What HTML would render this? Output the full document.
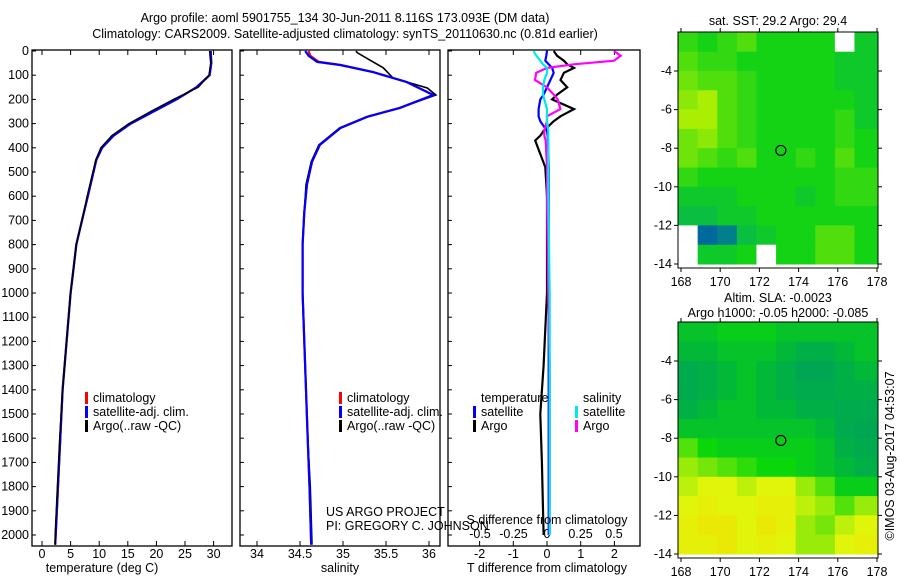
<!DOCTYPE html>
<html><head><meta charset="utf-8">
<style>
html,body{margin:0;padding:0;background:#fff;}
svg{display:block;font-family:"Liberation Sans",sans-serif;}
text{font-size:12.5px;fill:#000;}
</style></head>
<body>
<svg id="fig" width="900" height="580" viewBox="0 0 900 580">
<text x="345" y="22" text-anchor="middle">Argo profile: aoml 5901755_134 30-Jun-2011 8.116S 173.093E (DM data)</text>
<text x="345" y="38" text-anchor="middle">Climatology: CARS2009. Satellite-adjusted climatology: synTS_20110630.nc (0.81d earlier)</text>
<g id="plots"></g>
<text x="102" y="572" text-anchor="middle">temperature (deg C)</text>
<text x="340" y="572" text-anchor="middle">salinity</text>
<text x="547" y="572" text-anchor="middle">T difference from climatology</text>
<text x="547" y="524" text-anchor="middle">S difference from climatology</text>
<text x="326" y="516">US ARGO PROJECT</text>
<text x="326" y="530">PI: GREGORY C. JOHNSON</text>
<text x="778" y="25" text-anchor="middle">sat. SST: 29.2 Argo: 29.4</text>
<text x="778" y="302" text-anchor="middle">Altim. SLA: -0.0023</text>
<text x="778" y="317" text-anchor="middle">Argo h1000: -0.05 h2000: -0.085</text>
<text x="0" y="0" transform="translate(894,456) rotate(-90)" text-anchor="middle">©IMOS 03-Aug-2017 04:53:07</text>
</svg>
<script>
// ---- profile data ----
const tDepth=[0,50,100,150,200,250,300,350,400,450,500,600,700,800,900,1000,1200,1400,1600,1800,2000,2040];
const tClim=[29.5,29.6,29.3,27,23.5,19.5,15.5,12.5,10.5,9.5,9,8,7,6,5.5,5,4.3,3.6,3.2,2.8,2.4,2.3];
const tArgo=[29.3,29.5,29.2,27.3,23,19,15.2,12.2,10.3,9.4,8.9,7.9,7,6,5.5,5,4.3,3.6,3.1,2.7,2.3,2.3];
const sDepth=[0,20,45,58,87,128,182,235,272,318,388,458,553,665,800,1000,1200,1400,1600,1800,2040];
const sClim=[34.6,34.62,34.72,34.97,35.35,35.74,36.05,35.66,35.28,34.97,34.73,34.64,34.58,34.55,34.53,34.53,34.55,34.57,34.59,34.61,34.63];
const sSat=[34.56,34.6,34.7,34.97,35.35,35.74,36.05,35.66,35.28,34.97,34.73,34.64,34.58,34.55,34.53,34.53,34.55,34.57,34.59,34.61,34.63];
const sArgoDepth=[0,8,45,70,111,153,182,235,272,318,388,458,553,665,800,1000,1200,1400,1600,1800,2040];
const sArgo=[35.15,35.17,35.35,35.47,35.58,35.98,36.08,35.66,35.28,34.96,34.72,34.63,34.57,34.55,34.53,34.53,34.55,34.57,34.59,34.62,34.64];
// ---- difference data ----
const dDepth=[0,20,40,55,70,90,120,150,180,200,240,270,290,330,350,370,480,600,1000,1300,1500,1700,2000];
const dSArgo=[0.5,0.55,0.5,0.2,0.0,-0.08,-0.09,0.0,0.05,0.08,0.1,0.0,0.0,-0.02,-0.02,-0.01,0.0,0.0,0.01,0.02,0.02,0.02,0.02];
const dSSat=[-0.1,-0.08,-0.05,-0.03,0.0,0.0,-0.02,-0.03,-0.03,-0.02,0.0,0.0,0.0,0.01,0.01,0.01,0.01,0.01,0.02,0.02,0.02,0.02,0.02];
const dTSat=[0.0,-0.02,-0.05,0.05,0.15,0.2,0.1,0.0,-0.1,-0.2,-0.25,-0.25,-0.2,0.0,0.02,0.03,0.05,0.05,0.05,0.05,0.05,0.05,0.05];
const dTArgo=[0.2,0.3,0.5,0.6,0.8,0.5,0.4,0.6,0.3,0.15,0.8,0.4,0.2,-0.1,-0.2,-0.35,-0.05,0.0,0.0,-0.1,-0.2,-0.15,-0.1];
// ---- axis ticks ----
const depthTicks=[0,100,200,300,400,500,600,700,800,900,1000,1100,1200,1300,1400,1500,1600,1700,1800,1900,2000];
const tTicks=[0,5,10,15,20,25,30];
const sTicks=[34,34.5,35,35.5,36];
const sTickLabels=["34","34.5","35","35.5","36"];
const dtTicks=[-2,-1,0,1,2];
const dsTicks=[-0.5,-0.25,0,0.25,0.5];
const dsTickLabels=["-0.5","-0.25","0","0.25","0.5"];
const lonTicks=[168,170,172,174,176,178];
const latTicks=[-4,-6,-8,-10,-12,-14];
// ---- map grids (rows from -2 to -14 lat, cols 168..178 lon) ----
const sstGrid=[
[.55,.5,.55,.6,.5,.5,.5,.5,null,.45],
[.6,.55,.55,.5,.5,.5,.5,.5,.45,.45],
[.65,.6,.6,.55,.5,.5,.5,.5,.45,.45],
[.7,.75,.6,.55,.5,.5,.5,.5,.5,.45],
[.75,.75,.6,.55,.5,.5,.5,.5,.55,.45],
[.65,.7,.6,.55,.5,.5,.5,.5,.55,.5],
[.65,.6,.55,.6,.5,.5,.55,.5,.6,.5],
[.55,.5,.5,.5,.5,.5,.5,.5,.55,.55],
[.45,.45,.45,.5,.5,.5,.45,.5,.55,.55],
[.4,.4,.45,.45,.5,.5,.5,.5,.5,.5],
[null,.15,.2,.4,.45,.5,.5,.6,.6,.5],
[null,.45,.45,.5,null,.5,.5,.6,.6,.5]];
const slaGrid=[
[.4,.4,.45,.45,.45,.4,.4,.4,.4,.4],
[.35,.35,.4,.4,.4,.35,.3,.3,.35,.4],
[.25,.3,.35,.4,.35,.3,.2,.2,.3,.35],
[.25,.3,.35,.4,.35,.3,.25,.25,.3,.3],
[.3,.35,.4,.4,.35,.35,.3,.3,.25,.25],
[.4,.4,.4,.4,.4,.4,.4,.35,.25,.2],
[.6,.5,.45,.45,.45,.45,.45,.4,.3,.25],
[.7,.65,.6,.55,.5,.5,.45,.4,.35,.3],
[.75,.8,.8,.75,.8,.8,.7,.6,.45,.45],
[.8,.85,.8,.8,.85,.85,.75,.7,.6,.7],
[.85,.9,.9,.8,.9,.85,.7,.65,.75,.8],
[.85,.85,.9,.8,.85,.8,.7,.7,.8,.85]];
const argoLon=173.093, argoLat=-8.116;

const NS="http://www.w3.org/2000/svg";
const root=document.getElementById('plots');
function el(tag,attrs,parent){const e=document.createElementNS(NS,tag);for(const k in attrs)e.setAttribute(k,attrs[k]);(parent||root).appendChild(e);return e;}
const yD=d=>51+d*0.242;
const xT=t=>42+t*5.72;
const xS=s=>257+(s-34)*86;
const xDT=t=>547+t*33.7;
const xDS=s=>547+s*134;
function poly(xs,ys,fx,color,name,w){
  const pts=xs.map((v,i)=>fx(v).toFixed(1)+','+yD(ys[i]).toFixed(1)).join(' ');
  const p=el('polyline',{points:pts,fill:'none',stroke:color,'stroke-width':w||2.2});
  
  
}
function frame(x0,x1,name){
  const r=el('rect',{x:x0,y:50,width:x1-x0,height:496,fill:'none',stroke:'#000','stroke-width':1.3});
  
  
}
frame(32,232,'temperature-panel');frame(240,440,'salinity-panel');frame(448,640,'difference-panel');
depthTicks.forEach(d=>{
  const t=el('text',{x:29,y:yD(d)+4,'text-anchor':'end'});t.textContent=d;
  
  
  [32,240,448].forEach(x=>el('line',{x1:x,x2:x+4,y1:yD(d),y2:yD(d),stroke:'#000'}));
});
tTicks.forEach(v=>{
  el('line',{x1:xT(v),x2:xT(v),y1:546,y2:541,stroke:'#000'});el('line',{x1:xT(v),x2:xT(v),y1:50,y2:55,stroke:'#000'});
  const t=el('text',{x:xT(v),y:558,'text-anchor':'middle'});t.textContent=v;
  
  
});
sTicks.forEach((v,i)=>{
  el('line',{x1:xS(v),x2:xS(v),y1:546,y2:541,stroke:'#000'});el('line',{x1:xS(v),x2:xS(v),y1:50,y2:55,stroke:'#000'});
  const t=el('text',{x:xS(v),y:558,'text-anchor':'middle'});t.textContent=sTickLabels[i];
  
  
});
dtTicks.forEach(v=>{
  el('line',{x1:xDT(v),x2:xDT(v),y1:546,y2:541,stroke:'#000'});el('line',{x1:xDT(v),x2:xDT(v),y1:50,y2:55,stroke:'#000'});
  const t=el('text',{x:xDT(v),y:558,'text-anchor':'middle'});t.textContent=v;
  
  
});
dsTicks.forEach((v,i)=>{
  const t=el('text',{x:xDS(v),y:538,'text-anchor':'middle'});t.textContent=dsTickLabels[i];
  
  
});
poly(tClim,tDepth,xT,'#ff0000','temperature-climatology-line');
poly(tClim,tDepth,xT,'#0000ff','temperature-satellite-line');
poly(tArgo,tDepth,xT,'#000','temperature-argo-line',1.5);
poly(sClim,sDepth,xS,'#ff0000','salinity-climatology-line');
poly(sArgo,sArgoDepth,xS,'#000','salinity-argo-line',1.6);
poly(sSat,sDepth,xS,'#0000ff','salinity-satellite-line');
poly(dTArgo,dDepth,xDT,'#000','t-diff-argo-line');
poly(dTSat,dDepth,xDT,'#0000ff','t-diff-satellite-line');
poly(dSArgo,dDepth,xDS,'#ff00ff','s-diff-argo-line');
poly(dSSat,dDepth,xDS,'#00e8e8','s-diff-satellite-line');
function leg(x,y,color,label,name){
  if(color){el('rect',{x:x,y:y-10,width:3,height:12,fill:color});}
  const t=el('text',{x:x+8,y:y});t.textContent=label;
  
  
}
[[85,'temperature'],[339,'salinity']].forEach(([x,p])=>{
  leg(x,402,'#ff0000','climatology',p+'-legend-climatology');
  leg(x,416,'#0000ff','satellite-adj. clim.',p+'-legend-satellite');
  leg(x,430,'#000','Argo(..raw -QC)',p+'-legend-argo');
});
leg(473,402,null,'temperature','diff-legend-temperature-header');
leg(473,416,'#0000ff','satellite','diff-legend-t-satellite');
leg(473,430,'#000','Argo','diff-legend-t-argo');
leg(575,402,null,'salinity','diff-legend-salinity-header');
leg(575,416,'#00e8e8','satellite','diff-legend-s-satellite');
leg(575,430,'#ff00ff','Argo','diff-legend-s-argo');
function lerp(a,b,t){return a.map((v,i)=>Math.round(v+(b[i]-v)*t));}
function cmap(v,stops){for(let i=1;i<stops.length;i++){if(v<=stops[i][0]){const t=(v-stops[i-1][0])/(stops[i][0]-stops[i-1][0]);const c=lerp(stops[i-1][1],stops[i][1],t);return 'rgb('+c.join(',')+')';}}return 'rgb('+stops[stops.length-1][1].join(',')+')';}
const sstStops=[[0,[0,40,200]],[0.3,[0,170,110]],[0.5,[20,210,20]],[0.8,[200,245,0]],[1,[240,240,0]]];
const slaStops=[[0,[0,150,110]],[0.3,[0,175,70]],[0.5,[10,215,10]],[0.8,[225,245,10]],[1,[240,220,0]]];
function drawMap(y0,grid,stops,name){
  const x0=678,w=200,h=236;
  const fx=lon=>681+(lon-168)*19.6;
  const fy=lat=>y0+39+(-4-lat)*19.3;
  const g=el('g',{});
  
  
  grid.forEach((row,ri)=>row.forEach((v,ci)=>{
    const lat=-2-ri, lon=168+ci;
    const xa=Math.max(x0,fx(lon-0.15)), xb=Math.min(x0+w,fx(lon+0.85+(ci==9?0.5:0)));
    const ya=Math.max(y0,fy(lat+(ri==0?0.5:0))), yb=Math.min(y0+h,fy(lat-1));
    const c=el('rect',{x:xa,y:ya,width:xb-xa+0.5,height:yb-ya+0.5,fill:v===null?'#fff':cmap(v,stops)},g);
    
    
  }));
  el('rect',{x:x0,y:y0,width:w,height:h,fill:'none',stroke:'#000','stroke-width':1},g);
  const m=el('circle',{cx:fx(argoLon),cy:fy(argoLat),r:5,fill:'none',stroke:'#000','stroke-width':1.2},g);
  
  
  lonTicks.forEach(v=>{
    el('line',{x1:fx(v),x2:fx(v),y1:y0+h,y2:y0+h+4,stroke:'#000'},g);el('line',{x1:fx(v),x2:fx(v),y1:y0,y2:y0-4,stroke:'#000'},g);
    const t=el('text',{x:fx(v),y:y0+h+18,'text-anchor':'middle'},g);t.textContent=v;
    
    
  });
  latTicks.forEach(v=>{
    el('line',{x1:x0-4,x2:x0,y1:fy(v),y2:fy(v),stroke:'#000'},g);el('line',{x1:x0+w,x2:x0+w+4,y1:fy(v),y2:fy(v),stroke:'#000'},g);
    const t=el('text',{x:x0-6,y:fy(v)+4,'text-anchor':'end'},g);t.textContent=v;
    
    
  });
}
drawMap(32,sstGrid,sstStops,'sst-map');
drawMap(322,slaGrid,slaStops,'sla-map');
</script>
</body></html>
